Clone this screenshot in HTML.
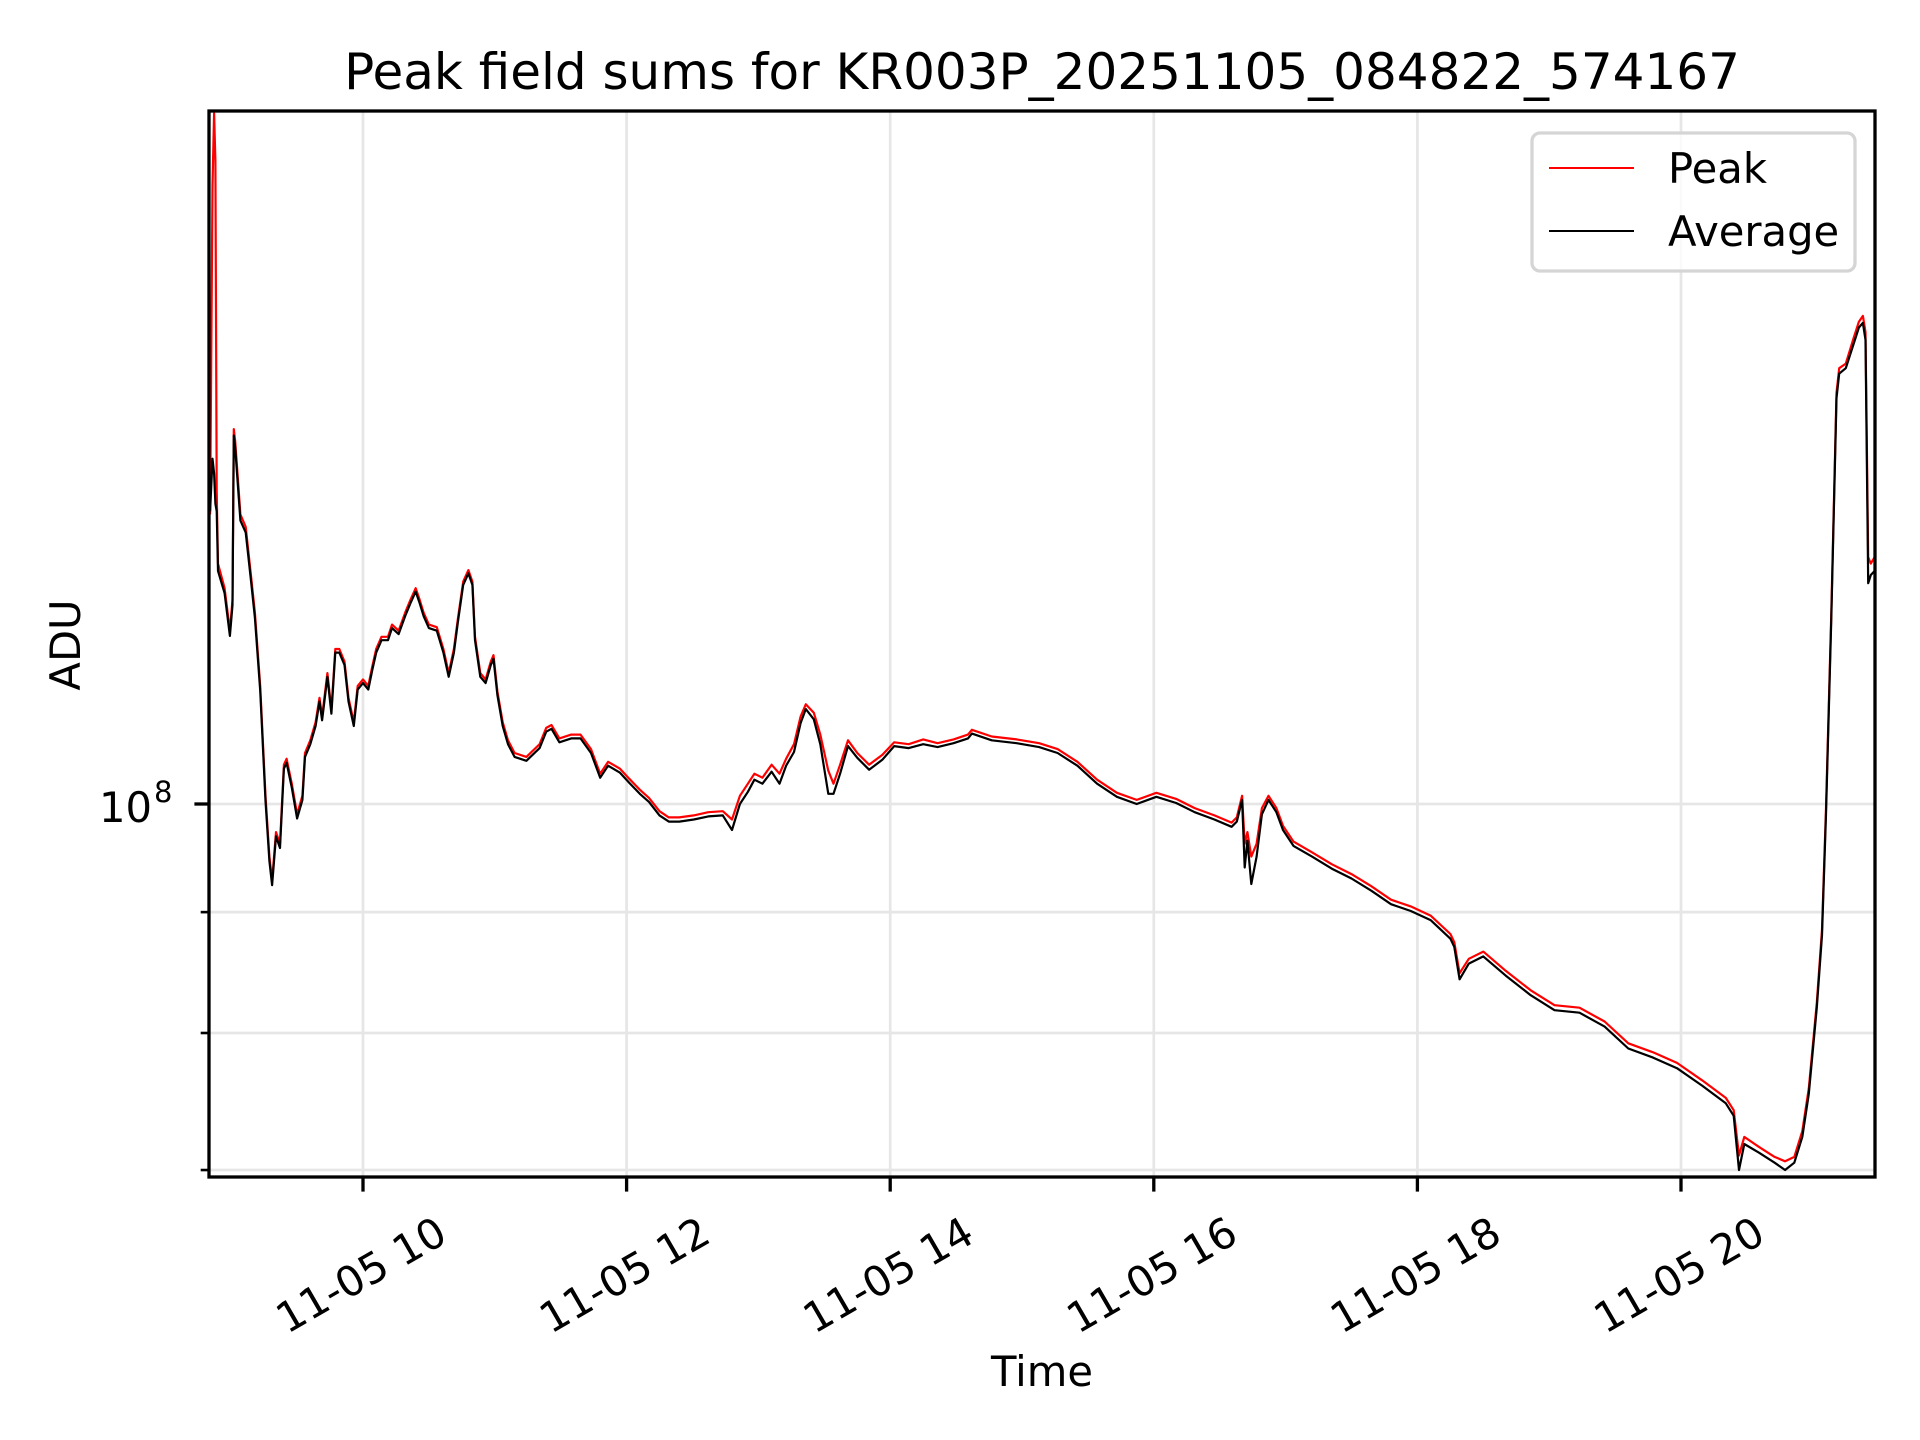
<!DOCTYPE html>
<html><head><meta charset="utf-8"><style>
html,body{margin:0;padding:0;background:#fff;}
svg{display:block;font-family:"DejaVu Sans","Liberation Sans",sans-serif;}
</style></head><body>
<svg id="chart" width="1920" height="1440" viewBox="0 0 1920 1440">
<rect width="1920" height="1440" fill="#fff"/>
<g id="grid"></g>
<g id="series"></g>
<rect x="209" y="111" width="1666" height="1066" fill="none" stroke="#000" stroke-width="3.3"/>
<g id="ticks"></g>
<text x="1042" y="89" font-size="50" text-anchor="middle">Peak field sums for KR003P_20251105_084822_574167</text>
<text x="1042" y="1386" font-size="41.7" text-anchor="middle">Time</text>
<text transform="translate(80,645) rotate(-90)" font-size="41.7" text-anchor="middle">ADU</text>
<g>
<rect x="1532" y="133" width="323" height="138" rx="8" fill="#fff" fill-opacity="0.8" stroke="#d5d5d5" stroke-width="3.3"/>
<line x1="1549" y1="168" x2="1634" y2="168" stroke="#f00" stroke-width="2"/>
<text x="1668" y="183" font-size="41.7">Peak</text>
<line x1="1549" y1="231" x2="1634" y2="231" stroke="#000" stroke-width="2"/>
<text x="1668" y="246" font-size="41.7">Average</text>
</g>
</svg>
<script>
const times=[8.84,8.858,8.87,8.88,8.89,8.90,8.95,8.99,9.01,9.02,9.03,9.07,9.11,9.15,9.18,9.22,9.26,9.29,9.31,9.34,9.37,9.40,9.42,9.46,9.50,9.54,9.56,9.60,9.64,9.67,9.69,9.73,9.76,9.79,9.82,9.86,9.89,9.93,9.96,10.00,10.04,10.07,10.10,10.14,10.19,10.22,10.27,10.32,10.36,10.40,10.43,10.46,10.50,10.56,10.61,10.65,10.69,10.72,10.76,10.80,10.83,10.85,10.89,10.93,10.97,10.99,11.02,11.06,11.10,11.15,11.24,11.34,11.39,11.43,11.49,11.58,11.65,11.73,11.80,11.86,11.95,12.02,12.10,12.17,12.25,12.32,12.40,12.51,12.62,12.73,12.80,12.86,12.92,12.97,13.03,13.10,13.16,13.21,13.27,13.32,13.36,13.42,13.47,13.53,13.57,13.62,13.68,13.75,13.84,13.94,14.03,14.14,14.25,14.36,14.48,14.59,14.62,14.77,14.96,15.13,15.27,15.42,15.57,15.72,15.87,16.02,16.17,16.31,16.46,16.59,16.63,16.67,16.69,16.71,16.74,16.78,16.82,16.87,16.93,16.98,17.06,17.20,17.35,17.50,17.65,17.80,17.95,18.10,18.25,18.28,18.32,18.39,18.50,18.67,18.86,19.04,19.23,19.42,19.60,19.79,19.97,20.16,20.34,20.40,20.44,20.48,20.59,20.71,20.79,20.86,20.92,20.97,21.03,21.07,21.10,21.14,21.18,21.20,21.25,21.31,21.35,21.38,21.40,21.42,21.44,21.47];
const peakValues=[1.326,1.827,1.96,1.871,1.357,1.264,1.234,1.184,1.220,1.441,1.424,1.326,1.310,1.249,1.205,1.122,1.008,0.950,0.928,0.973,0.962,1.039,1.045,1.020,0.990,1.008,1.051,1.064,1.083,1.109,1.089,1.136,1.096,1.163,1.163,1.149,1.109,1.083,1.122,1.129,1.122,1.143,1.163,1.177,1.177,1.191,1.184,1.205,1.220,1.234,1.220,1.205,1.191,1.188,1.163,1.136,1.163,1.198,1.242,1.256,1.242,1.177,1.136,1.129,1.149,1.156,1.116,1.083,1.064,1.051,1.047,1.060,1.077,1.080,1.066,1.070,1.070,1.055,1.030,1.042,1.035,1.025,1.014,1.006,0.993,0.987,0.987,0.989,0.992,0.993,0.985,1.008,1.020,1.030,1.026,1.039,1.030,1.045,1.060,1.089,1.102,1.093,1.070,1.033,1.020,1.039,1.064,1.051,1.039,1.049,1.062,1.060,1.065,1.061,1.065,1.070,1.075,1.068,1.065,1.061,1.055,1.042,1.024,1.011,1.004,1.011,1.005,0.996,0.989,0.982,0.987,1.008,0.962,0.973,0.950,0.962,0.996,1.008,0.996,0.979,0.964,0.954,0.943,0.934,0.923,0.911,0.905,0.897,0.881,0.874,0.848,0.860,0.866,0.850,0.834,0.822,0.820,0.809,0.792,0.785,0.777,0.764,0.751,0.742,0.710,0.723,0.716,0.709,0.706,0.709,0.727,0.758,0.824,0.885,0.996,1.205,1.493,1.529,1.536,1.575,1.600,1.609,1.584,1.272,1.264,1.272];
const avgValues=[1.330,1.400,1.380,1.340,1.330,1.255,1.228,1.178,1.214,1.432,1.415,1.318,1.303,1.243,1.199,1.117,1.003,0.946,0.924,0.969,0.958,1.035,1.041,1.016,0.986,1.004,1.047,1.060,1.079,1.105,1.085,1.132,1.092,1.159,1.159,1.145,1.105,1.079,1.118,1.125,1.118,1.139,1.159,1.173,1.173,1.187,1.180,1.201,1.216,1.230,1.216,1.201,1.187,1.184,1.159,1.132,1.159,1.194,1.238,1.252,1.238,1.173,1.132,1.125,1.145,1.152,1.112,1.079,1.060,1.047,1.043,1.056,1.073,1.076,1.062,1.066,1.066,1.051,1.026,1.038,1.031,1.021,1.010,1.002,0.989,0.983,0.983,0.985,0.988,0.989,0.975,1.000,1.012,1.024,1.020,1.032,1.020,1.038,1.052,1.082,1.097,1.086,1.060,1.010,1.010,1.030,1.058,1.046,1.034,1.044,1.058,1.056,1.060,1.057,1.061,1.066,1.071,1.064,1.061,1.057,1.051,1.038,1.020,1.007,1.000,1.007,1.001,0.992,0.985,0.978,0.983,1.004,0.940,0.965,0.925,0.950,0.990,1.004,0.992,0.975,0.960,0.950,0.939,0.930,0.919,0.907,0.901,0.893,0.877,0.870,0.843,0.856,0.862,0.846,0.830,0.818,0.816,0.805,0.788,0.781,0.773,0.760,0.747,0.738,0.700,0.718,0.712,0.705,0.700,0.705,0.723,0.754,0.820,0.880,0.990,1.198,1.485,1.521,1.529,1.566,1.591,1.598,1.572,1.240,1.250,1.255];
const xTickHours=[10,12,14,16,18,20];
const xTickLabels=["11-05 10","11-05 12","11-05 14","11-05 16","11-05 18","11-05 20"];
const yMinorTicks=[0.7,0.8,0.9];
const NS="http://www.w3.org/2000/svg";
const L=209,R=1875,T=111,B=1177;
function xScale(h){return 363+(h-10)*131.8;}
function yScale(v){return 804-Math.log10(v)*2363;}
function mk(tag,attrs,parent){const e=document.createElementNS(NS,tag);for(const k in attrs)e.setAttribute(k,attrs[k]);parent.appendChild(e);return e;}
const grid=document.getElementById('grid'),ticks=document.getElementById('ticks'),series=document.getElementById('series');
xTickHours.forEach((h,i)=>{
  const x=xScale(h);
  const g=mk('line',{x1:x,y1:T,x2:x,y2:B,stroke:'#e6e6e6','stroke-width':2.7},grid);
  
  
  const t=mk('line',{x1:x,y1:B,x2:x,y2:B+14.6,stroke:'#000','stroke-width':3.3},ticks);
  
  
  const lb=mk('text',{transform:`translate(${x-2},1275) rotate(-30)`,'font-size':41.7,'text-anchor':'middle','dominant-baseline':'central'},ticks);
  lb.textContent=xTickLabels[i];
  
  
});
[1].concat(yMinorTicks).forEach((v,i)=>{
  const y=yScale(v);
  const g=mk('line',{x1:L,y1:y,x2:R,y2:y,stroke:'#e6e6e6','stroke-width':2.7},grid);
  
  
  const t=mk('line',{x1:L,y1:y,x2:L-(i===0?14.6:8.3),y2:y,stroke:'#000','stroke-width':(i===0?3.3:2.6)},ticks);
  
  
});
const yl=mk('text',{x:152,y:822,'font-size':41.7,'text-anchor':'end'},ticks);
yl.textContent='10';


const ys=mk('text',{x:154,y:802,'font-size':29},ticks);
ys.textContent='8';


function pathFor(vals){return vals.map((v,i)=>(i?'L':'M')+xScale(times[i]).toFixed(1)+','+Math.min(B,Math.max(T,yScale(v))).toFixed(1)).join('');}
const pp=mk('path',{d:pathFor(peakValues),fill:'none',stroke:'#f00','stroke-width':2.2,'stroke-linejoin':'round'},series);


const ap=mk('path',{d:pathFor(avgValues),fill:'none',stroke:'#000','stroke-width':2.2,'stroke-linejoin':'round'},series);


</script>
</body></html>
